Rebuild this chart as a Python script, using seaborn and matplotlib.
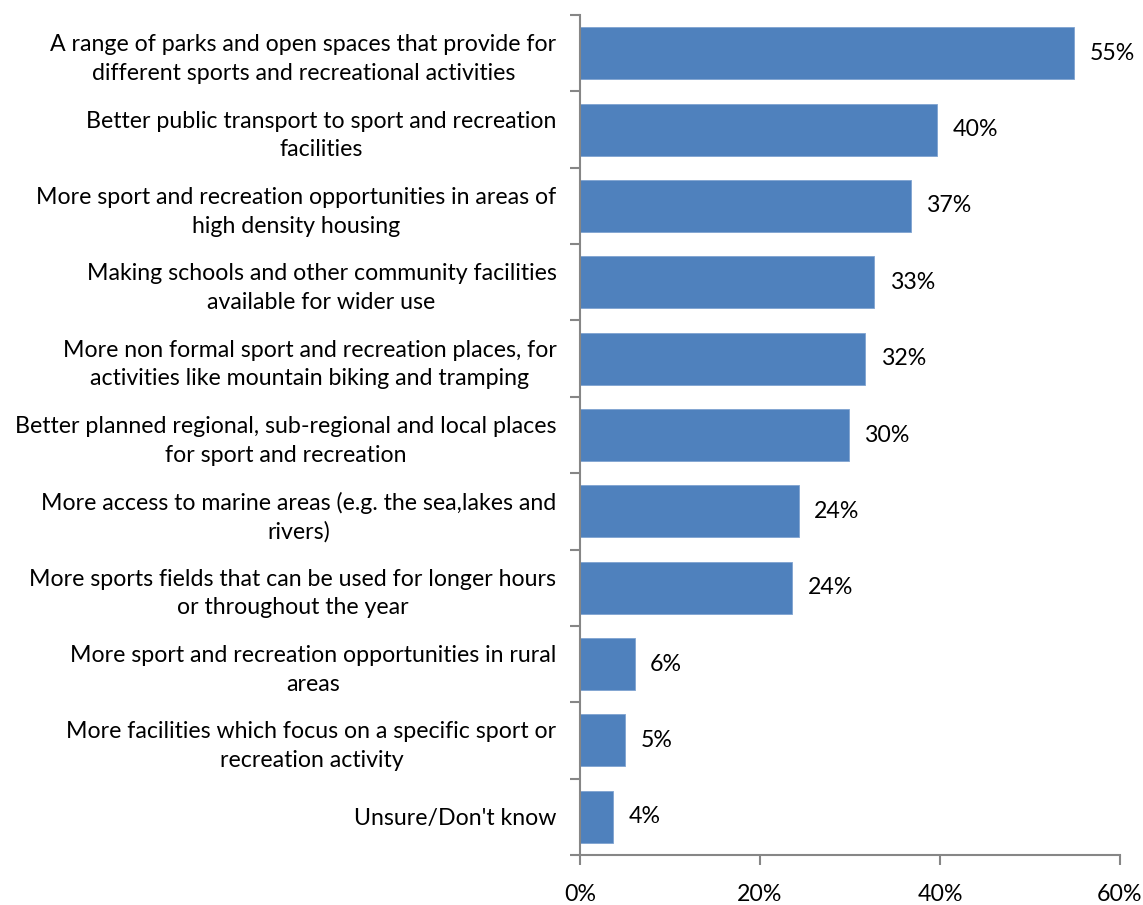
import matplotlib
matplotlib.use("Agg")
import matplotlib.pyplot as plt
import seaborn as sns
import pandas as pd
from matplotlib.ticker import FixedLocator, PercentFormatter

categories = [
    "A range of parks and open spaces that provide for\ndifferent sports and recreational activities",
    "Better public transport to sport and recreation\nfacilities",
    "More sport and recreation opportunities in areas of\nhigh density housing",
    "Making schools and other community facilities\navailable for wider use",
    "More non formal sport and recreation places, for\nactivities like mountain biking and tramping",
    "Better planned regional, sub-regional and local places\nfor sport and recreation",
    "More access to marine areas (e.g. the sea,lakes and\nrivers)",
    "More sports fields that can be used for longer hours\nor throughout the year",
    "More sport and recreation opportunities in rural\nareas",
    "More facilities which focus on a specific sport or\nrecreation activity",
    "Unsure/Don't know",
]
values = [54.9, 39.7, 36.8, 32.7, 31.7, 29.9, 24.3, 23.6, 6.1, 5.0, 3.7]
x_ticks = [0, 20, 40, 60]

df = pd.DataFrame({"option": categories, "share": values})

sns.set_theme(style="white")
plt.rcParams["font.family"] = ["Lato", "DejaVu Sans"]
FS = 16.7

fig = plt.figure(figsize=(11.43, 9.05), dpi=100)
ax = fig.add_axes([580 / 1143, 50 / 905, 540 / 1143, 840 / 905])

sns.barplot(data=df, x="share", y="option", color="#4F81BD", saturation=1,
            width=0.68, ax=ax, edgecolor="#7FA3D0", linewidth=0.6)

ax.set_xlim(0, 60)
ax.set_ylim(len(categories) - 0.5, -0.5)
ax.set_xlabel("")
ax.set_ylabel("")

for i, v in enumerate(values):
    ax.annotate(f"{v:.0f}%", xy=(v, i), xytext=(11, 0), textcoords="offset points",
                ha="left", va="center", fontsize=FS, color="black")

ax.xaxis.set_major_locator(FixedLocator(x_ticks))
ax.xaxis.set_major_formatter(PercentFormatter(decimals=0))
ax.tick_params(axis="x", direction="out", length=7, width=1.5, color="#868686",
               pad=14, labelsize=FS, labelcolor="black", bottom=True)

ax.set_yticks(range(len(categories)))
ax.set_yticklabels(categories, fontsize=FS, multialignment="center", linespacing=1.45)
ax.tick_params(axis="y", which="major", length=0, pad=17, labelcolor="black")
ax.set_yticks([i - 0.5 for i in range(len(categories) + 1)], minor=True)
ax.tick_params(axis="y", which="minor", direction="out", length=7, width=1.5,
               color="#868686", left=True)

for side in ["top", "right"]:
    ax.spines[side].set_visible(False)
for side in ["left", "bottom"]:
    ax.spines[side].set_color("#868686")
    ax.spines[side].set_linewidth(1.5)

fig.savefig("out.png", dpi=100, facecolor="white")
